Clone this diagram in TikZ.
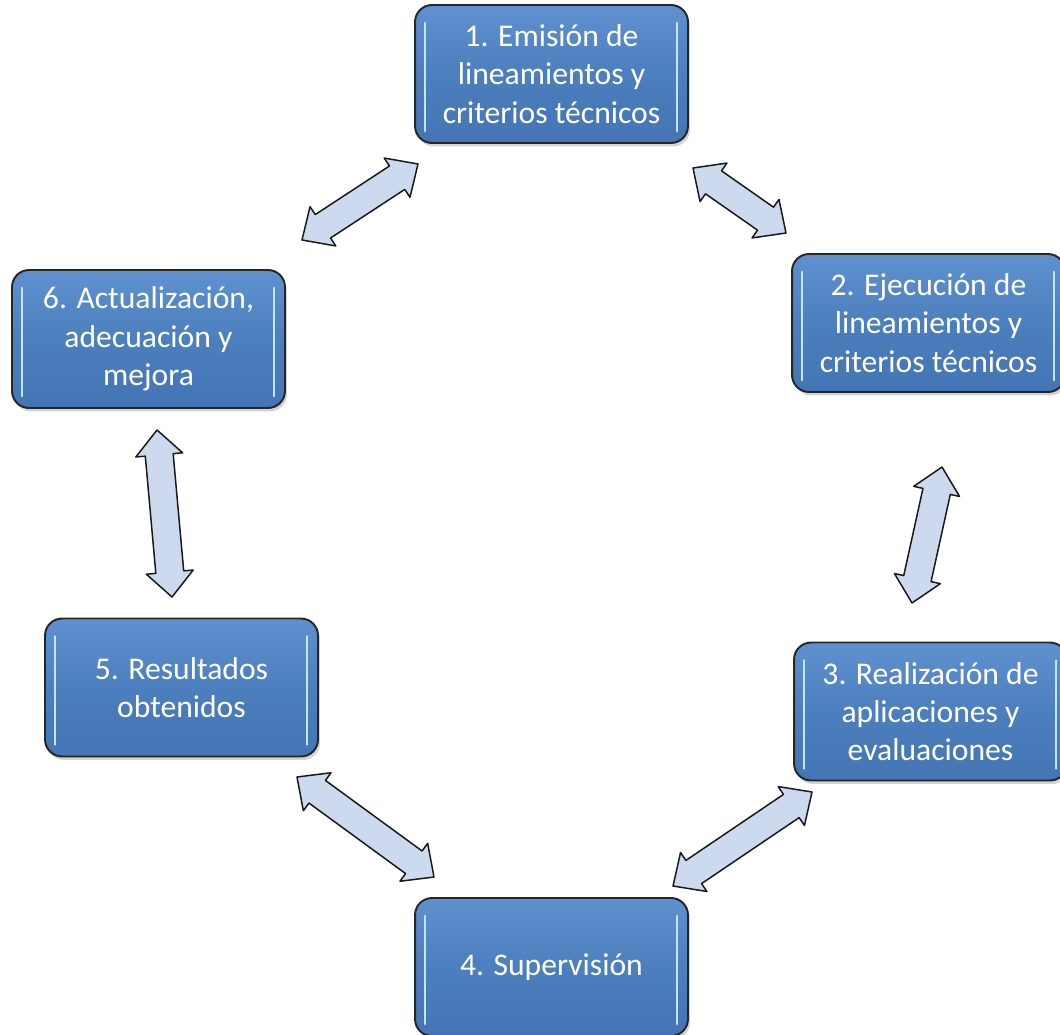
\documentclass[tikz,border=0pt]{standalone}
\usepackage{fontspec}
\setmainfont{Carlito}
\usepackage{tikz}
\usetikzlibrary{calc, shadows, positioning}

\definecolor{azulcaja}{RGB}{76,127,189}
\definecolor{azulclaro}{RGB}{96,144,208}
\definecolor{azuloscuro}{RGB}{68,116,180}
\definecolor{brillo}{RGB}{196,230,255}
\definecolor{flechafondo}{RGB}{204,217,238}

% flecha de bloque con dos puntas entre dos coordenadas
\newcommand{\flecha}[2]{%
  \draw[flechadoble] (#1)
    -- ($(#1)!0.5cm!(#2)!0.47cm!90:(#2)$)
    -- ($(#1)!0.5cm!(#2)!0.28cm!90:(#2)$)
    -- ($(#2)!0.5cm!(#1)!0.28cm!-90:(#1)$)
    -- ($(#2)!0.5cm!(#1)!0.47cm!-90:(#1)$)
    -- (#2)
    -- ($(#2)!0.5cm!(#1)!0.47cm!90:(#1)$)
    -- ($(#2)!0.5cm!(#1)!0.28cm!90:(#1)$)
    -- ($(#1)!0.5cm!(#2)!0.28cm!-90:(#2)$)
    -- ($(#1)!0.5cm!(#2)!0.47cm!-90:(#2)$)
    -- cycle;}

\begin{document}
\begin{tikzpicture}[x=0.02cm, y=-0.02cm,
    etapa/.style={draw=black!85, line width=1.1pt, rounded corners=0.34cm,
      top color=azulclaro, bottom color=azuloscuro, middle color=azulcaja,
      minimum width=5.46cm, minimum height=2.76cm, inner sep=0pt,
      align=center, text=white, font=\fontsize{18}{21.8}\selectfont,
      drop shadow={opacity=0.35, shadow xshift=0.04cm, shadow yshift=-0.07cm},
      path picture={
        \draw[brillo, line width=1.6pt, line cap=round]
          ([xshift=0.2cm, yshift=-0.36cm]path picture bounding box.north west)
          -- ([xshift=0.2cm, yshift=0.24cm]path picture bounding box.south west);
        \draw[brillo, line width=1.6pt, line cap=round]
          ([xshift=-0.22cm, yshift=-0.36cm]path picture bounding box.north east)
          -- ([xshift=-0.22cm, yshift=0.24cm]path picture bounding box.south east);
      }},
    flechadoble/.style={draw=black!90, line width=0.85pt, line join=round,
      fill=flechafondo}]

    \useasboundingbox (0,0) rectangle (1060,1034);

    \node[etapa] (emision) at (551.5,74) {1. Emisión de\\lineamientos y\\criterios técnicos};
    \node[etapa] (ejecucion) at (928.5,323) {2. Ejecución de\\lineamientos y\\criterios técnicos};
    \node[etapa] (realizacion) at (930.5,711.5) {3. Realización de\\aplicaciones y\\evaluaciones};
    \node[etapa] (supervision) at (551.5,967) {4. Supervisión};
    \node[etapa] (resultados) at (181.5,687.5) {5. Resultados\\obtenidos};
    \node[etapa] (actualizacion) at (148.5,339) {6. Actualización,\\adecuación y\\mejora};

    \coordinate (f12a) at (693,168);
    \coordinate (f12b) at (786,233);
    \coordinate (f23a) at (942,467);
    \coordinate (f23b) at (912,603);
    \coordinate (f34a) at (812,792);
    \coordinate (f34b) at (673,886);
    \coordinate (f45a) at (434,877);
    \coordinate (f45b) at (297,777);
    \coordinate (f56a) at (172,597);
    \coordinate (f56b) at (157,430);
    \coordinate (f61a) at (302,240);
    \coordinate (f61b) at (418,164);

    \flecha{f12a}{f12b}
    \flecha{f23a}{f23b}
    \flecha{f34a}{f34b}
    \flecha{f45a}{f45b}
    \flecha{f56a}{f56b}
    \flecha{f61a}{f61b}

\end{tikzpicture}
\end{document}
